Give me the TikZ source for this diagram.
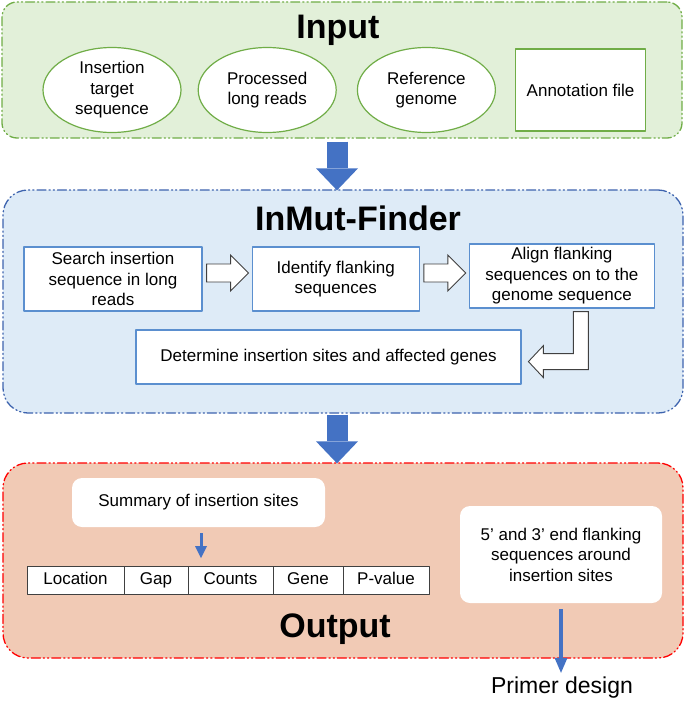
\documentclass[tikz,border=0pt]{standalone}
\usepackage{fontspec}
\setmainfont{Liberation Sans}
\usepackage{tikz}
\usetikzlibrary{arrows.meta,positioning,calc,shapes.geometric}
\definecolor{leafgreen}{HTML}{70AD47}
\definecolor{softgreen}{HTML}{E2F0D9}
\definecolor{flowblue}{HTML}{4472C4}
\definecolor{panelblue}{HTML}{3D63AE}
\definecolor{softblue}{HTML}{DEEBF7}
\definecolor{boxblue}{HTML}{5B8FCF}
\definecolor{alarmred}{HTML}{FF0000}
\definecolor{softpeach}{HTML}{F1CAB5}
\definecolor{ink}{HTML}{404040}
\tikzset{
    every picture/.style={line cap=round,line join=round},
    dashdotdot/.style={dash pattern=on 9pt off 3pt on 1.2pt off 3pt on 1.2pt off 3pt},
    panel/.style={dashdotdot,line width=1.3pt,minimum width=680pt,inner sep=0pt},
    titletext/.style={font=\fontsize{34}{40}\selectfont\bfseries,anchor=base},
    inputitem/.style={draw=leafgreen,fill=white,line width=1.2pt,ellipse,inner sep=0pt,
      minimum width=138pt,minimum height=85pt,align=center},
    stepbox/.style={draw=boxblue,fill=white,line width=1.2pt,inner sep=2pt,
      minimum height=64pt,align=center},
    hollowarrow/.style={draw=ink,fill=white,line width=0.9pt,line join=miter},
    notebox/.style={fill=white,rounded corners=10pt,inner sep=2pt,align=center},
    tablecell/.style={draw=ink,fill=white,line width=1pt,outer sep=0pt,
      minimum height=28pt,text height=12pt,text depth=3.5pt,inner sep=0pt},
    bigarrow/.style={draw=flowblue,line width=21pt,line cap=butt,
      -{Triangle[length=22pt,width=42pt,line width=0pt]}},
    smallarrow/.style={draw=flowblue,line width=3pt,line cap=butt,
      -{Triangle[length=12pt,width=12pt,line width=0pt]}}
}
\begin{document}
\begin{tikzpicture}[x=1pt,y=-1pt,font=\fontsize{17}{20.5}\selectfont]
    \useasboundingbox (0,0) rectangle (685,701);

    % input
    \node[panel,draw=leafgreen,fill=softgreen,rounded corners=15pt,minimum height=136pt] (inputpanel) at (342,70) {};
    \node[titletext] (inputtitle) at (338,38) {Input};
    \node[inputitem] (target) at (112,90) {Insertion\\target\\sequence};
    \node[inputitem,right=16pt of target] (reads) {Processed\\long reads};
    \node[inputitem,right=20pt of reads] (genome) {Reference\\genome};
    \node[inputitem,rectangle,minimum width=130pt,minimum height=82pt,right=19pt of genome] (annot) {Annotation file};

    % finder
    \node[panel,draw=panelblue,fill=softblue,rounded corners=25pt,minimum height=223pt] (finderpanel) at (343,301.5) {};
    \node[titletext] (findertitle) at (358,230) {InMut-Finder};
    \node[stepbox,minimum width=178pt] (search) at (113,279) {Search insertion\\sequence in long\\reads};
    \node[stepbox,minimum width=167pt,right=49pt of search] (flanks) {Identify flanking\\sequences};
    \node[stepbox,minimum width=185pt,right=49pt of flanks,yshift=3pt] (align) {Align flanking\\sequences on to the\\genome sequence};
    \node[stepbox,minimum width=385pt,minimum height=54pt] (sites) at (328.5,357) {Determine insertion sites and affected genes};
    \foreach \from in {search,flanks}
        \draw[hollowarrow] ($(\from.east)+(4,-15)$) -- ++(24,0) -- ++(0,-9) -- ++(18,18)
            -- ++(-18,18) -- ++(0,-9) -- ++(-24,0) -- cycle;
    \draw[hollowarrow] ($(align.south)+(11.5,3)$) -- ++(15,0) -- ++(0,58) -- ++(-45,0)
        -- ++(0,8) -- ++(-15,-16) -- ++(15,-16) -- ++(0,8) -- ++(30,0) -- cycle;

    % output
    \node[panel,draw=alarmred,fill=softpeach,rounded corners=25pt,minimum height=195pt] (outputpanel) at (343,560.5) {};
    \node[notebox,minimum width=253pt,minimum height=49pt] (summary) at (198.5,502.5) {Summary of insertion sites};
    \node[tablecell,minimum width=97pt] (location) at (75.5,580) {Location};
    \node[tablecell,minimum width=64pt,right=0pt of location] (gapcol) {Gap};
    \node[tablecell,minimum width=85pt,right=0pt of gapcol] (counts) {Counts};
    \node[tablecell,minimum width=70pt,right=0pt of counts] (gene) {Gene};
    \node[tablecell,minimum width=86pt,right=0pt of gene] (pvalue) {P-value};
    \node[titletext] (outputtitle) at (335,637) {Output};
    \node[notebox,minimum width=202pt,minimum height=97pt] (flankout) at (561,554.5) {5’ and 3’ end flanking\\sequences around\\insertion sites};
    \node[anchor=base,font=\fontsize{23}{27}\selectfont] (primer) at (562,693) {Primer design};

    \draw[bigarrow] ($(inputpanel.south)+(-5,3)$) -- ($(inputpanel.south |- finderpanel.north)+(-5,1)$);
    \draw[bigarrow] ($(finderpanel.south)+(-6,1)$) -- ($(finderpanel.south |- outputpanel.north)+(-6,1)$);
    \draw[smallarrow] ($(summary.south)+(2.5,6)$) -- ($(summary.south |- counts.north)+(2.5,-8)$);
    \draw[smallarrow,line width=4pt,-{Triangle[length=15pt,width=13pt,line width=0pt]}]
        ($(flankout.south)+(0,6)$) -- (flankout.south |- primer.north);
\end{tikzpicture}
\end{document}
